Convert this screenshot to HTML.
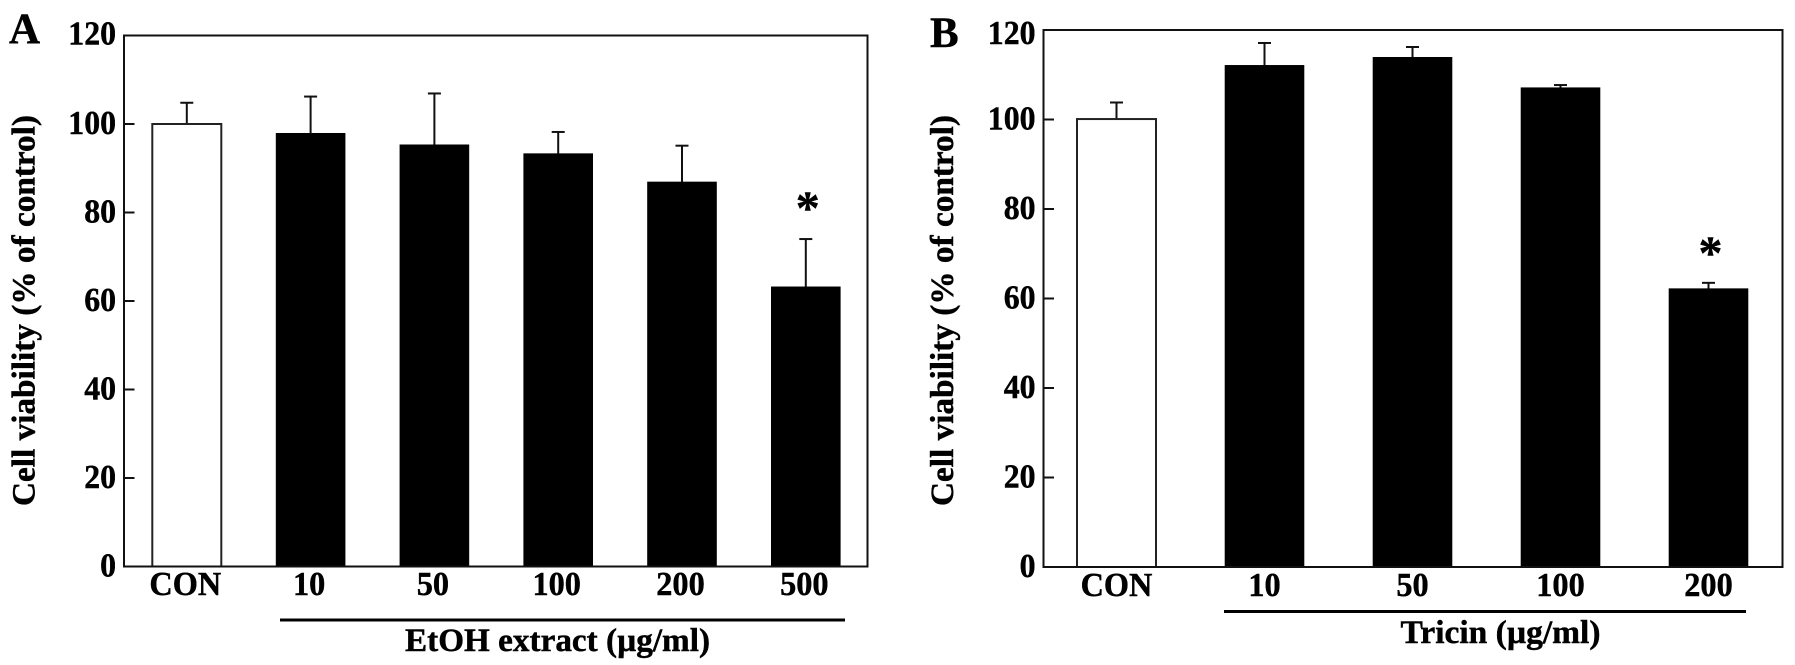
<!DOCTYPE html>
<html lang="en">
<head>
<meta charset="utf-8">
<title>Cell viability charts</title>
<style>
  html, body { margin: 0; padding: 0; background: #fff; }
  svg { display: block; }
  text { font-family: "Liberation Serif", serif; font-weight: bold; fill: #000; stroke: #000; stroke-width: 0.45px; }
</style>
</head>
<body>
<svg id="figure" xmlns="http://www.w3.org/2000/svg" width="1795" height="665" viewBox="0 0 1795 665">
  <rect width="1795" height="665" fill="#fff"/>
  <g id="panel-a">
    <text x="9" y="43" font-size="43">A</text>
    <text transform="translate(34.5,506) rotate(-90)" font-size="33" textLength="391" lengthAdjust="spacingAndGlyphs">Cell viability (% of control)</text>
    <line x1="280" x2="845" y1="620" y2="620" stroke="#000" stroke-width="3"/>
    <text x="405" y="651" font-size="33" textLength="305" lengthAdjust="spacingAndGlyphs">EtOH extract (µg/ml)</text>
  </g>
  <g id="panel-b">
    <text x="930" y="47" font-size="43">B</text>
    <text transform="translate(953,506) rotate(-90)" font-size="33" textLength="391" lengthAdjust="spacingAndGlyphs">Cell viability (% of control)</text>
    <line x1="1224" x2="1746" y1="611.5" y2="611.5" stroke="#000" stroke-width="3"/>
    <text x="1400.5" y="643" font-size="33" textLength="200" lengthAdjust="spacingAndGlyphs">Tricin (µg/ml)</text>
  </g>
</svg>
<script>
const categoriesA = ['CON', '10', '50', '100', '200', '500'];
const valuesA = [100, 97.9, 95.3, 93.3, 86.9, 63.2];
const errorsA = [4.8, 8.3, 11.6, 4.9, 8.2, 10.8];
const significantA = [false, false, false, false, false, true];
const controlsA = ['CON'];

const categoriesB = ['CON', '10', '50', '100', '200'];
const valuesB = [100.1, 112.1, 113.9, 107.1, 62.2];
const errorsB = [3.7, 5.0, 2.3, 0.6, 1.3];
const significantB = [false, false, false, false, true];
const controlsB = ['CON'];

const yTickLabels = [0, 20, 40, 60, 80, 100, 120];
const yDomainMax = 120;

const SVG_NS = 'http://www.w3.org/2000/svg';
const TEXT_SQUEEZE = 0.95;

function make(tag, attrs, parent, text) {
  const el = document.createElementNS(SVG_NS, tag);
  for (const k in attrs) el.setAttribute(k, attrs[k]);
  if (text !== undefined) el.textContent = text;
  parent.appendChild(el);
  return el;
}

function squeezed(x, y) {
  return 'translate(' + x + ',' + y + ') scale(' + TEXT_SQUEEZE + ',1)';
}

function drawPanel(parent, prefix, layout, categories, values, errors, significant, controls) {
  const yScale = v => layout.bottom - (v / yDomainMax) * (layout.bottom - layout.top);
  const xScale = i => layout.firstCenter + i * layout.step;
  const lineStyle = { stroke: '#111', 'stroke-width': 2, fill: 'none' };

  yTickLabels.forEach(t => {
    const tick = make('line', Object.assign({ x1: layout.left, x2: layout.left + 10.5, y1: yScale(t), y2: yScale(t) }, lineStyle), parent);
    
    
    const drop = layout.labelDrop + (t === yDomainMax ? layout.topLabelExtra : 0);
    const label = make('text', { transform: squeezed(layout.left - layout.labelGap, yScale(t) + drop), 'font-size': 33.5, 'text-anchor': 'end' }, parent, String(t));
    
    
  });

  categories.forEach((c, i) => {
    const cx = xScale(i);
    const topValue = values[i] + errors[i];

    const stem = make('line', Object.assign({ x1: cx, x2: cx, y1: yScale(values[i]), y2: yScale(topValue) }, lineStyle), parent);
    
    

    const cap = make('line', Object.assign({ x1: cx - 6.5, x2: cx + 6.5, y1: yScale(topValue), y2: yScale(topValue) }, lineStyle), parent);
    
    

    const isControl = controls.includes(c);
    const bar = make('rect', {
      x: cx - layout.barWidth / 2,
      y: yScale(values[i]),
      width: layout.barWidth,
      height: yScale(0) - yScale(values[i]),
      fill: isControl ? '#fff' : '#000',
      stroke: isControl ? '#222' : '#000',
      'stroke-width': isControl ? 2 : 0.6
    }, parent);
    
    

    const label = make('text', { transform: squeezed(cx + layout.catShift, layout.catBaseline), 'font-size': 34, 'text-anchor': 'middle' }, parent, c);
    
    

    if (significant[i]) {
      const star = make('text', { x: cx + 2, y: yScale(topValue) - layout.starLift, 'font-size': 48, 'text-anchor': 'middle' }, parent, '*');
      
      
    }
  });

  const frame = make('rect', Object.assign({ x: layout.left, y: layout.top, width: layout.right - layout.left, height: layout.bottom - layout.top }, lineStyle), parent);
  
  
}

drawPanel(document.getElementById('panel-a'), 'panel-a',
  { left: 124, right: 867.5, top: 35.5, bottom: 566.5, firstCenter: 186.8, step: 123.8, barWidth: 69, labelGap: 8, labelDrop: 10, topLabelExtra: -1, catBaseline: 595, catShift: -1.5, starLift: 15 },
  categoriesA, valuesA, errorsA, significantA, controlsA);

drawPanel(document.getElementById('panel-b'), 'panel-b',
  { left: 1043.5, right: 1782.5, top: 30, bottom: 567, firstCenter: 1116.5, step: 148, barWidth: 79, labelGap: 8, labelDrop: 10, topLabelExtra: 4, catBaseline: 596, catShift: 0, starLift: 14 },
  categoriesB, valuesB, errorsB, significantB, controlsB);
</script>
</body>
</html>
